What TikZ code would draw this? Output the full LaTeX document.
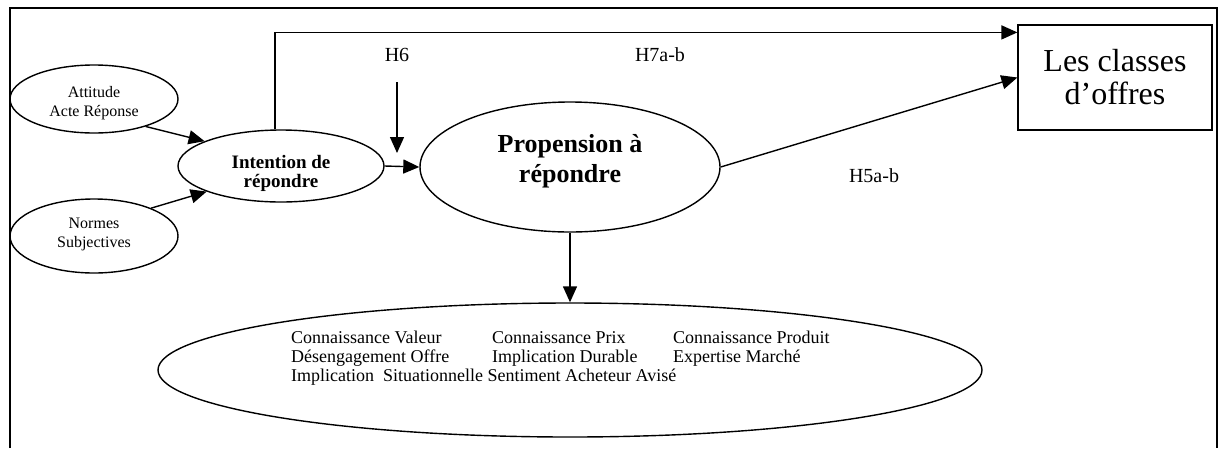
\documentclass[tikz,border=0pt]{standalone}
\usepackage{fontspec}
\setmainfont{Liberation Serif}
\usetikzlibrary{shapes.geometric,arrows.meta}
\begin{document}
\begin{tikzpicture}[x=1pt,y=-1pt,
  arr/.style={line width=1.4pt,-{Triangle[length=16pt,width=14pt]}},
  oval/.style={draw,ellipse,line width=1.4pt,inner sep=0pt},
  txt/.style={align=center,inner sep=0pt},
  lab/.style={font=\fontsize{20}{22}\selectfont}]
\useasboundingbox (0,0) rectangle (1220,448);
% outer frame, open at the bottom
\draw[line width=2pt] (10,448) -- (10,8) -- (1217,8) -- (1217,448);

% constructs (outline first, wording placed inside)
\node[oval, minimum width=168pt, minimum height=68pt] (att) at (94,99) {};
\node[txt, font=\fontsize{16}{19}\selectfont] (atttxt) at (94,103) {Attitude\\Acte Réponse};

\node[oval, minimum width=168pt, minimum height=74pt] (norm) at (94,236) {};
\node[txt, font=\fontsize{16}{19}\selectfont] (normtxt) at (94,234) {Normes\\Subjectives};

\node[oval, minimum width=206pt, minimum height=72pt] (int) at (281,166) {};
\node[txt, font=\bfseries\fontsize{19}{19}\selectfont] (inttxt) at (281,173) {Intention de\\répondre};

\node[oval, minimum width=300pt, minimum height=130pt] (prop) at (570,167) {};
\node[txt, font=\bfseries\fontsize{26}{30}\selectfont] (proptxt) at (570,161) {Propension à\\répondre};

\node[draw, line width=1.2pt, minimum width=194pt, minimum height=105pt, align=center,
      font=\fontsize{32}{33}\selectfont] (box) at (1115,77.5) {Les classes\\d’offres};

\node[oval, minimum width=824pt, minimum height=134pt] (dims) at (570,370) {};
\node[anchor=base west, align=left, inner sep=0pt,
      font=\fontsize{18}{19}\selectfont] (dimtxt) at (291,381)
  {\makebox[201pt][l]{Connaissance Valeur}\makebox[181pt][l]{Connaissance Prix}Connaissance Produit\\
   \makebox[201pt][l]{Désengagement Offre}\makebox[181pt][l]{Implication Durable}Expertise Marché\\
   Implication\ \ Situationnelle Sentiment Acheteur Avisé};

% hypothesis labels
\node[lab] (h6) at (397,55) {H6};
\node[lab] (h7) at (660,55) {H7a-b};
\node[lab] (h5) at (874,176) {H5a-b};

% connectors
\draw[arr] (att.-28) -- (int.162);
\draw[arr] (norm.26) -- (int.199);
\draw[arr] ([xshift=-6pt]int.north) |- ([yshift=-8pt]box.north west);
\draw[arr] (int.east) -- (prop.west);
\draw[arr] (prop.east) -- (box.west);
\draw[arr] (prop.south) -- (dims.north);
\coordinate (h6a) at (397,82);
\coordinate (h6b) at (397,153);
\draw[arr] (h6a) -- (h6b);
\end{tikzpicture}
\end{document}
